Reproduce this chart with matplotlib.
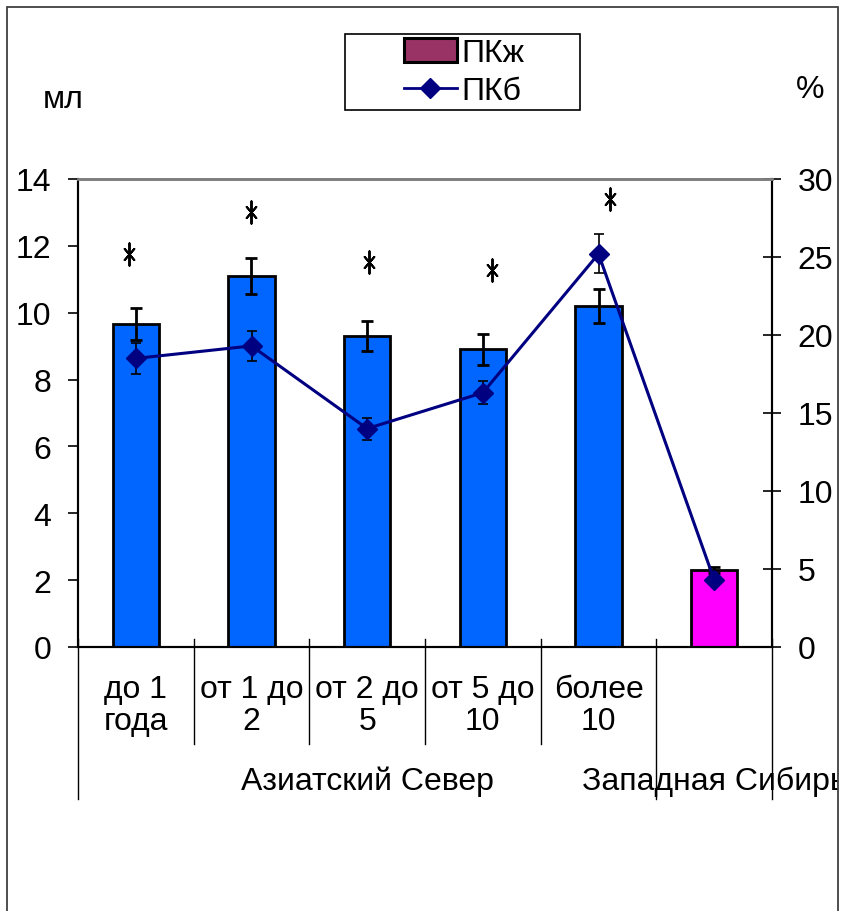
import matplotlib.pyplot as plt
import matplotlib.transforms as mtransforms
from matplotlib.markers import MarkerStyle
from matplotlib.patches import Rectangle, Patch
from matplotlib.lines import Line2D

plt.rcParams['font.family'] = ['Liberation Sans', 'DejaVu Sans']

# ---- data ----
categories = ["до 1\nгода", "от 1 до\n2", "от 2 до\n5", "от 5 до\n10", "более\n10", ""]
groups = ["Азиатский Север", "Западная Сибирь"]
group_spans = [(0, 4), (5, 5)]

pkzh = [9.65, 11.1, 9.3, 8.9, 10.2, 2.3]          # мл, bars
pkzh_err = [0.48, 0.55, 0.45, 0.45, 0.5, 0.1]
pkb = [18.5, 19.3, 14.0, 16.3, 25.2, 4.3]         # %, line
pkb_err = [1.0, 0.95, 0.7, 0.75, 1.25, 0.35]

bar_colors = ["#0066FF"] * 5 + ["#FF00FF"]

# significance marks: (height on left axis, horizontal shift)
star_y = [11.76, 13.0, 11.52, 11.28, 13.4]
star_dx = [-0.06, 0.0, 0.02, 0.08, 0.1]

FS = 23
W, H = 844, 912
fig = plt.figure(figsize=(W / 100, H / 100), dpi=100)
ax = fig.add_axes([78 / W, 1 - 648 / H, (772 - 78) / W, (648 - 180) / H])
ax2 = ax.twinx()

x = list(range(len(categories)))

ax.bar(x, pkzh, width=0.4, color=bar_colors, edgecolor="black", linewidth=2, zorder=2)
ax.errorbar(x, pkzh, yerr=pkzh_err, fmt="none", ecolor="black",
            elinewidth=2, capsize=4.5, capthick=2, zorder=3)

ax2.errorbar(x, pkb, yerr=pkb_err, fmt="none", ecolor="black",
             elinewidth=1.2, capsize=3.5, capthick=1.2, zorder=3)
ax2.plot(x, pkb, color="#000080", linewidth=2.2, marker="D", markersize=10,
         markerfacecolor="#000080", markeredgecolor="#000080", zorder=4)

# narrow six-armed asterisk
star = MarkerStyle((6, 2, 0), transform=mtransforms.Affine2D().scale(0.5, 1.0))
ax.scatter([i + d for i, d in enumerate(star_dx)], star_y, marker=star, s=260,
           color="black", linewidths=1.4, zorder=5, clip_on=False)

# ---- axes ----
ax.set_xlim(-0.5, len(categories) - 0.5)
ax.set_ylim(0, 14)
ax.set_yticks(range(0, 15, 2))
ax2.set_ylim(0, 30)
ax2.set_yticks(range(0, 31, 5))
ax.set_xticks([])

ax.tick_params(axis="y", labelsize=FS, length=7, width=1.2, pad=12)
ax2.tick_params(axis="y", labelsize=FS, length=13, width=1.2, direction="inout", pad=12)

for a in (ax, ax2):
    a.spines["left"].set_linewidth(1.5)
    a.spines["right"].set_linewidth(1.5)
    a.spines["bottom"].set_linewidth(1.5)
    a.spines["top"].set_color("#808080")
    a.spines["top"].set_linewidth(2)
ax2.patch.set_visible(False)

# category separators below the axis
trans = mtransforms.blended_transform_factory(ax.transData, ax.transAxes)
outer = {-0.5, 4.5, len(categories) - 0.5}
for b in [i - 0.5 for i in range(len(categories) + 1)]:
    y_end = -0.325 if b in outer else -0.207
    ax.plot([b, b], [0.017, y_end], color="black", linewidth=1,
            transform=trans, clip_on=False)

for i, lab in enumerate(categories):
    ax.text(i, -0.124, lab, ha="center", va="center", fontsize=FS,
            linespacing=1.12, transform=trans)

frame_clip = Rectangle((7 / W, -0.1), (838 - 7) / W, 1.2, transform=fig.transFigure)
for name, (a, b) in zip(groups, group_spans):
    t = ax.text((a + b) / 2, -0.286, name, ha="center", va="center",
                fontsize=FS, transform=trans)
    t.set_clip_path(frame_clip)
    t.set_clip_on(True)

fig.text(63 / W, 1 - 100 / H, "мл", ha="center", va="center", fontsize=FS)
fig.text(810 / W, 1 - 90 / H, "%", ha="center", va="center", fontsize=FS)

# outer chart border (open at the bottom)
fig.add_artist(Rectangle((7 / W, -0.05), (838 - 7) / W, 1 - 8 / H + 0.05,
                         transform=fig.transFigure, fill=False,
                         edgecolor="#404040", linewidth=1.3))

# legend box is wider than its content, so the frame is drawn separately
fig.add_artist(Rectangle((345 / W, 1 - 111 / H), (580 - 345) / W, 76 / H,
                         transform=fig.transFigure, fill=False,
                         edgecolor="black", linewidth=1.2))
handles = [
    Patch(facecolor="#993366", edgecolor="black", linewidth=2.2),
    Line2D([], [], color="#000080", linewidth=2, marker="D", markersize=10),
]
fig.legend(handles, ["ПКж", "ПКб"], loc="center left",
           bbox_to_anchor=(404 / W, 1 - 73 / H), fontsize=FS,
           frameon=False, borderpad=0, labelspacing=0.25, handlelength=1.65,
           handleheight=0.75, handletextpad=0.15, borderaxespad=0)

fig.savefig("out.png", dpi=100)
